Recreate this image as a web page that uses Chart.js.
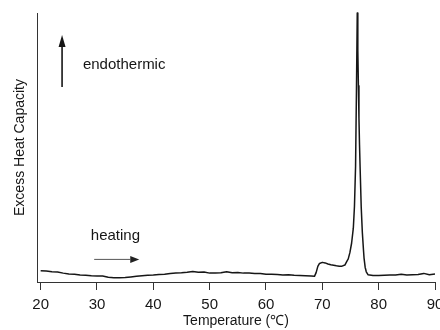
<!DOCTYPE html>
<html>
<head>
<meta charset="utf-8">
<script src="https://cdn.jsdelivr.net/npm/chart.js@4/dist/chart.umd.min.js"></script>
<style>
    html, body { margin: 0; padding: 0; background: #fff; }
</style>
</head>
<body>
<canvas id="dsc-chart" width="440" height="330"></canvas>
<script>
const temps = [
    20, 21, 22, 23, 24, 25, 26, 27, 28, 29,
    30, 31, 32, 33, 34, 35, 36, 37, 38, 39,
    40, 41, 42, 43, 44, 45, 46, 47, 48, 49,
    50, 51, 52, 53, 54, 55, 56, 57, 58, 59,
    60, 61, 62, 63, 64, 65, 66, 67, 68, 68.6,
    68.9, 69.2, 69.5, 70, 70.5, 71, 71.5, 72, 72.5, 73,
    73.5, 74, 74.3, 74.6, 74.9, 75.2, 75.5, 75.7, 75.9, 76.05,
    76.2, 76.3, 76.4, 76.5, 76.6, 76.7, 76.9, 77.1, 77.3, 77.4,
    77.6, 77.8, 78.1, 79, 80, 81, 82, 83, 84, 85,
    86, 87, 88, 89, 90
];
const heatCapacity = [
    4.2, 4.1, 3.8, 3.7, 3.3, 3.0, 2.9, 2.6, 2.5, 2.3,
    2.2, 2.2, 1.8, 1.6, 1.6, 1.7, 1.9, 2.1, 2.3, 2.5,
    2.6, 2.8, 2.9, 3.2, 3.3, 3.4, 3.6, 3.9, 3.6, 3.7,
    3.3, 3.3, 3.4, 3.8, 3.4, 3.5, 3.3, 3.3, 3.2, 3.2,
    2.9, 2.9, 2.8, 2.6, 2.7, 2.5, 2.4, 2.3, 2.2, 2.1,
    3.5, 5.8, 6.9, 7.3, 7.1, 6.7, 6.4, 6.2, 6.0, 5.9,
    5.9, 6.3, 7.5, 8.6, 11, 14.5, 20, 28, 43, 70,
    100, 86, 73, 61, 51, 43, 28, 18.5, 12, 9,
    5.5, 3.8, 2.7, 2.4, 2.4, 2.5, 2.6, 2.6, 2.9, 2.6,
    2.7, 2.8, 3.2, 2.7, 3.0
];
const xTickValues = [20, 30, 40, 50, 60, 70, 80, 90];

// Anotaciones en coordenadas de datos [temperatura, Cp]
const endoArrow = [[23.8, 72.5], [23.8, 91.8]];
const endoLabel = [27.5, 80.7];
const heatArrow = [[29.5, 8.4], [37.5, 8.4]];
const heatLabel = [28.9, 17.1];

const FONT = '"Liberation Sans", Arial, sans-serif';
const INK = '#161616';

/**
 * Dibuja una flecha con punta rellena.
 */
function drawArrow(ctx, x1, y1, x2, y2, headLen, headW, width) {
    const ang = Math.atan2(y2 - y1, x2 - x1);
    const bx = x2 - headLen * Math.cos(ang);
    const by = y2 - headLen * Math.sin(ang);
    ctx.lineWidth = width;
    ctx.beginPath();
    ctx.moveTo(x1, y1);
    ctx.lineTo(bx, by);
    ctx.stroke();
    ctx.beginPath();
    ctx.moveTo(x2, y2);
    ctx.lineTo(bx + headW / 2 * Math.sin(ang), by - headW / 2 * Math.cos(ang));
    ctx.lineTo(bx - headW / 2 * Math.sin(ang), by + headW / 2 * Math.cos(ang));
    ctx.closePath();
    ctx.fill();
}

// Plugin para los textos y flechas dentro del área del gráfico
const annotationsPlugin = {
    id: 'annotations',
    afterDatasetsDraw(chart) {
        const { ctx, scales: { x, y } } = chart;
        ctx.save();
        ctx.fillStyle = INK;
        ctx.strokeStyle = INK;
        ctx.font = '15px ' + FONT;
        ctx.textBaseline = 'middle';
        ctx.textAlign = 'left';

        ctx.fillText('endothermic', x.getPixelForValue(endoLabel[0]), y.getPixelForValue(endoLabel[1]));
        drawArrow(ctx,
            x.getPixelForValue(endoArrow[0][0]), y.getPixelForValue(endoArrow[0][1]),
            x.getPixelForValue(endoArrow[1][0]), y.getPixelForValue(endoArrow[1][1]),
            12, 7, 1.6);

        ctx.fillText('heating', x.getPixelForValue(heatLabel[0]), y.getPixelForValue(heatLabel[1]));
        ctx.fillStyle = '#222';
        ctx.strokeStyle = '#555';
        drawArrow(ctx,
            x.getPixelForValue(heatArrow[0][0]), y.getPixelForValue(heatArrow[0][1]),
            x.getPixelForValue(heatArrow[1][0]), y.getPixelForValue(heatArrow[1][1]),
            9, 7, 1);
        ctx.restore();
    }
};

new Chart(document.getElementById('dsc-chart'), {
    type: 'line',
    data: {
        datasets: [{
            data: temps.map((t, i) => ({ x: t, y: heatCapacity[i] })),
            borderColor: INK,
            borderWidth: 1.5,
            borderJoinStyle: 'round',
            pointRadius: 0,
            tension: 0,
            fill: false,
            clip: 4
        }]
    },
    options: {
        responsive: false,
        animation: false,
        layout: { padding: { top: 13, right: 5, left: 0, bottom: 0 } },
        plugins: {
            legend: { display: false },
            tooltip: { enabled: false }
        },
        scales: {
            x: {
                type: 'linear',
                min: 19.35,
                max: 90,
                afterBuildTicks: (scale) => {
                    scale.ticks = xTickValues.map(v => ({ value: v }));
                },
                afterFit: (scale) => {
                    scale.height = 48;
                    scale.paddingLeft = 0;
                    scale.paddingRight = 0;
                },
                ticks: {
                    color: INK,
                    font: { family: FONT, size: 15 },
                    padding: 6,
                    maxRotation: 0
                },
                grid: {
                    drawOnChartArea: false,
                    drawTicks: true,
                    tickLength: 8,
                    color: '#333'
                },
                border: { display: true, color: '#333', width: 1 },
                title: {
                    display: true,
                    text: 'Temperature (℃)',
                    color: INK,
                    font: { family: FONT, size: 14 },
                    padding: { top: 0, bottom: 0 }
                }
            },
            y: {
                type: 'linear',
                min: 0,
                max: 100,
                afterFit: (scale) => {
                    scale.width = 37;
                    scale.paddingTop = 0;
                    scale.paddingBottom = 0;
                },
                ticks: { display: false },
                grid: { display: false },
                border: { display: true, color: '#333', width: 1 },
                title: {
                    display: true,
                    text: 'Excess Heat Capacity',
                    color: INK,
                    font: { family: FONT, size: 14 },
                    padding: { top: 12, bottom: 0 }
                }
            }
        }
    },
    plugins: [annotationsPlugin]
});
</script>
</body>
</html>
